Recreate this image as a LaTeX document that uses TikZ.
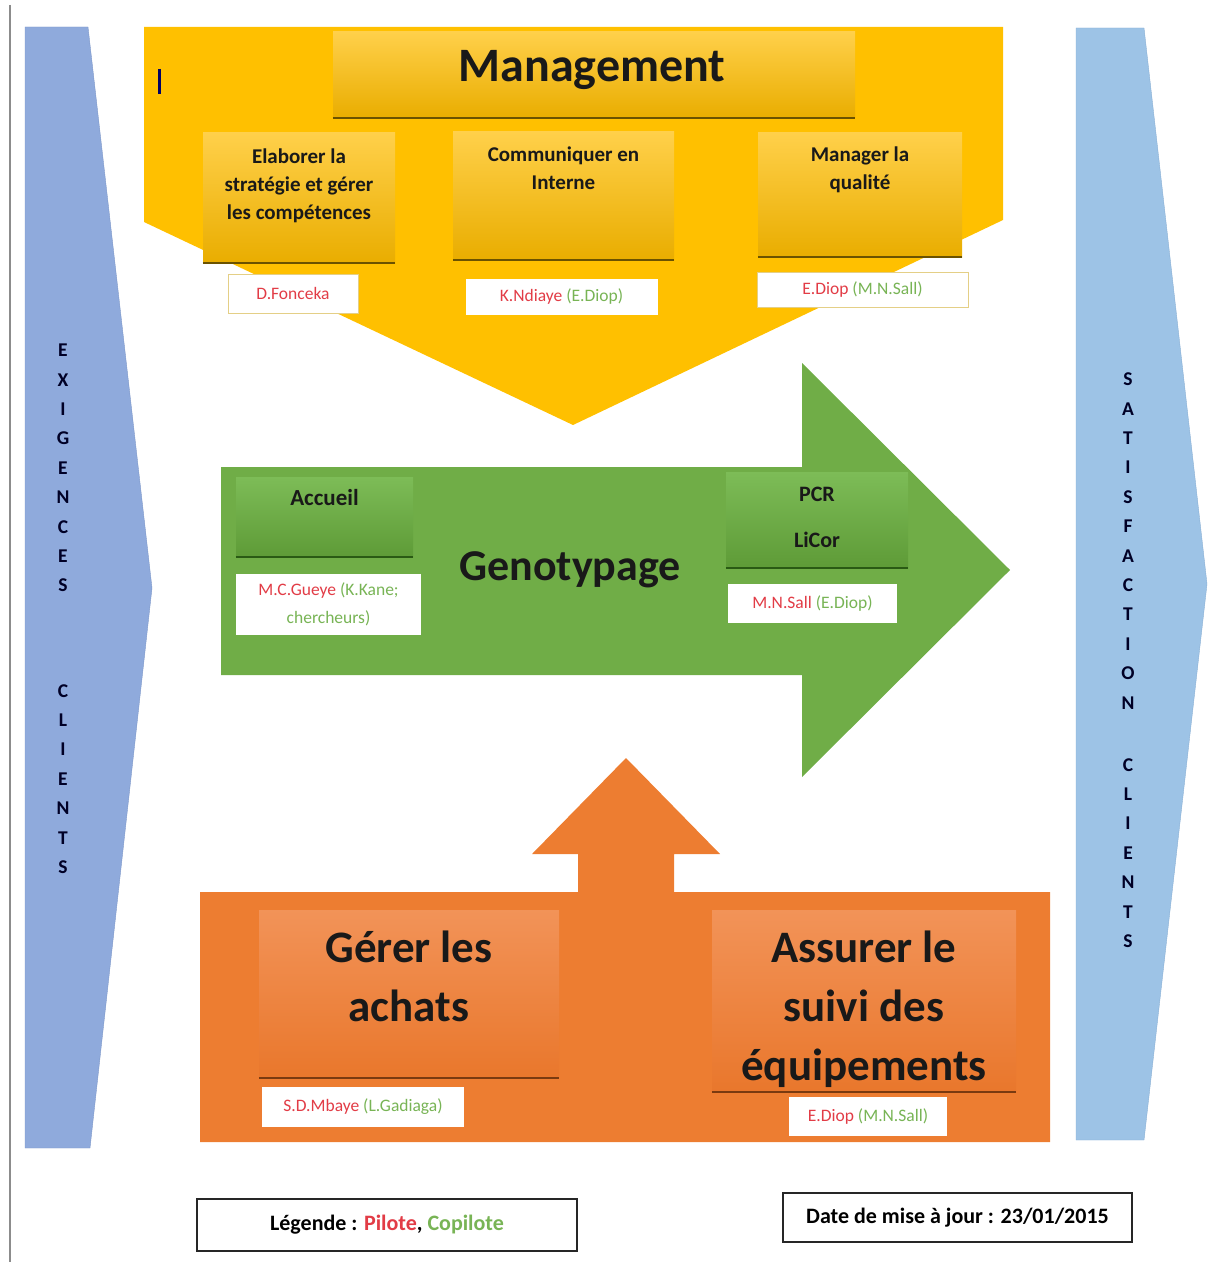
\documentclass[tikz,border=0pt]{standalone}
\usepackage{fontspec}
\setmainfont{Carlito}
\usetikzlibrary{positioning}

\definecolor{mgtyellow}{HTML}{FFC000}
\definecolor{ytop}{HTML}{FFD04A}
\definecolor{ybot}{HTML}{E9AD00}
\definecolor{yline}{HTML}{6B5200}
\definecolor{gengreen}{HTML}{70AD47}
\definecolor{gtop}{HTML}{7DBC57}
\definecolor{gbot}{HTML}{5E9B37}
\definecolor{gline}{HTML}{2A5A14}
\definecolor{suporange}{HTML}{ED7D31}
\definecolor{otop}{HTML}{F29358}
\definecolor{obot}{HTML}{E9772C}
\definecolor{oline}{HTML}{7A3A10}
\definecolor{exblue}{HTML}{8FAADC}
\definecolor{exedge}{HTML}{7D97C8}
\definecolor{satblue}{HTML}{9DC3E6}
\definecolor{satedge}{HTML}{89AFD4}
\definecolor{pilred}{HTML}{E23C46}
\definecolor{copgreen}{HTML}{78B455}
\definecolor{tanborder}{HTML}{E4CF86}

\begin{document}
\begin{tikzpicture}[x=1pt, y=-1pt]
        % Define block styles
        \tikzstyle{ybox} = [rectangle, top color=ytop, bottom color=ybot, draw=none]
        \tikzstyle{gbox} = [rectangle, top color=gtop, bottom color=gbot, draw=none]
        \tikzstyle{obox} = [rectangle, top color=otop, bottom color=obot, draw=none]
        \tikzstyle{boxlabel} = [inner sep=0pt, align=center, text=black!90, font=\fontsize{21}{28}\selectfont\bfseries]
        \tikzstyle{biglabel} = [inner sep=0pt, align=center, text=black!90, font=\fontsize{45}{59}\selectfont\bfseries]
        \tikzstyle{namebox} = [rectangle, fill=white, inner sep=0pt, align=center, font=\fontsize{17.5}{28}\selectfont]
        \tikzstyle{sidetext} = [inner sep=0pt, align=center, text=black!85!blue, font=\fontsize{19.5}{29.4}\selectfont\bfseries]
        \tikzstyle{infobox} = [rectangle, draw=black!85, line width=1.5pt, fill=white, font=\fontsize{22}{26}\selectfont\bfseries]

        \useasboundingbox (0,0) rectangle (1208,1265);

        % Side arrows
        \draw [line width=1.5pt, black!45] (10,5) -- (10,1262);
        \filldraw [fill=exblue, draw=exedge] (25,27) -- (88,27) -- (152,588) -- (90,1148) -- (25,1148) -- cycle;
        \filldraw [fill=satblue, draw=satedge] (1076,28) -- (1144,28) -- (1207,584) -- (1144,1140) -- (1076,1140) -- cycle;
        \node (exig) [sidetext] at (63,468) {E\\X\\I\\G\\E\\N\\C\\E\\S};
        \node (clil) [sidetext] at (63,779) {C\\L\\I\\E\\N\\T\\S};
        \node (satis) [sidetext] at (1128,541) {S\\A\\T\\I\\S\\F\\A\\C\\T\\I\\O\\N};
        \node (clir) [sidetext] at (1128,853) {C\\L\\I\\E\\N\\T\\S};

        % Management
        \fill [mgtyellow] (144,27) -- (1003,27) -- (1003,220) -- (573,425) -- (144,222) -- cycle;
        \draw [line width=3pt, black!60!blue] (159,69) -- (159,94);
        \node (mgt) [ybox, minimum width=522, minimum height=86] at (594,75) {};
        \node (mgtlbl) [inner sep=0pt, text=black!90, font=\fontsize{48}{58}\selectfont\bfseries] at (592,70) {Management};
        \node (strat) [ybox, minimum width=192, minimum height=130] at (299,198) {};
        \node (comm) [ybox, minimum width=221, minimum height=128] at (563.5,196) {};
        \node (qual) [ybox, minimum width=204, minimum height=124] at (860,195) {};
        \draw [yline, line width=2.5pt] (mgt.south west) -- (mgt.south east);
        \draw [yline, line width=2.5pt] (strat.south west) -- (strat.south east);
        \draw [yline, line width=2.5pt] (comm.south west) -- (comm.south east);
        \draw [yline, line width=2.5pt] (qual.south west) -- (qual.south east);
        \node (stratlbl) [boxlabel, below=16pt of strat.north] {Elaborer la\\strat\'egie et g\'erer\\les comp\'etences};
        \node (commlbl) [boxlabel, below=15pt of comm.north] {Communiquer en\\Interne};
        \node (quallbl) [boxlabel, below=14pt of qual.north] {Manager la\\qualit\'e};
        \node (fonc) [namebox, draw=tanborder, minimum width=130, minimum height=39] at (293,293.5) {\textcolor{pilred}{D.Fonceka}};
        \node (ndia) [namebox, draw=white, minimum width=191, minimum height=35] at (561.5,296.5) {\textcolor{pilred}{K.Ndiaye} \textcolor{copgreen}{(E.Diop)}};
        \node (diopm) [namebox, draw=tanborder, minimum width=211, minimum height=35] at (862.5,289.5) {\textcolor{pilred}{E.Diop} \textcolor{copgreen}{(M.N.Sall)}};

        % Genotypage
        \fill [gengreen] (221,467) -- (802,467) -- (802,363) -- (1010,570) -- (802,777) -- (802,675) -- (221,675) -- cycle;
        \node (acc) [gbox, minimum width=177, minimum height=80] at (324.5,517) {};
        \node (pcr) [gbox, minimum width=182, minimum height=96] at (817,520) {};
        \draw [gline, line width=2.5pt] (acc.south west) -- (acc.south east);
        \draw [gline, line width=2.5pt] (pcr.south west) -- (pcr.south east);
        \node (acclbl) [boxlabel, font=\fontsize{23}{28}\selectfont\bfseries, below=12pt of acc.north] {Accueil};
        \node (pcrlbl) [boxlabel, font=\fontsize{22}{28}\selectfont\bfseries, below=15pt of pcr.north] {PCR\\[18pt]LiCor};
        \node (geno) [inner sep=0pt, text=black!90, font=\fontsize{44}{52}\selectfont\bfseries] at (570,570) {Genotypage};
        \node (gueye) [namebox, minimum width=185, minimum height=61] at (328.5,604.5) {\textcolor{pilred}{M.C.Gueye} \textcolor{copgreen}{(K.Kane;}\\\textcolor{copgreen}{chercheurs)}};
        \node (salln) [namebox, minimum width=169, minimum height=39] at (812.5,603.5) {\textcolor{pilred}{M.N.Sall} \textcolor{copgreen}{(E.Diop)}};

        % Support
        \fill [suporange] (200,892) -- (578,892) -- (578,854) -- (532,854) -- (626,758) -- (720,854) -- (674,854) -- (674,892) -- (1050,892) -- (1050,1142) -- (200,1142) -- cycle;
        \node (achat) [obox, minimum width=300, minimum height=168] at (409,994) {};
        \node (equip) [obox, minimum width=304, minimum height=182] at (864,1001) {};
        \draw [oline, line width=2pt] (achat.south west) -- (achat.south east);
        \draw [oline, line width=2.5pt] (equip.south west) -- (equip.south east);
        \node (achatlbl) [biglabel, below=21pt of achat.north] {G\'erer les\\achats};
        \node (equiplbl) [biglabel, below=21pt of equip.north] {Assurer le\\suivi des\\\'equipements};
        \node (mbaye) [namebox, minimum width=202, minimum height=40] at (363,1107) {\textcolor{pilred}{S.D.Mbaye} \textcolor{copgreen}{(L.Gadiaga)}};
        \node (diopo) [namebox, minimum width=158, minimum height=39] at (868,1116.5) {\textcolor{pilred}{E.Diop} \textcolor{copgreen}{(M.N.Sall)}};

        % Legend and date
        \node (legend) [infobox, minimum width=380, minimum height=52] at (387,1225) {L\'egende : \textcolor{pilred}{Pilote}, \textcolor{copgreen}{Copilote}};
        \node (date) [infobox, minimum width=349, minimum height=49] at (957.5,1217.5) {Date de mise \`a jour : 23/01/2015};
    \end{tikzpicture}
\end{document}
